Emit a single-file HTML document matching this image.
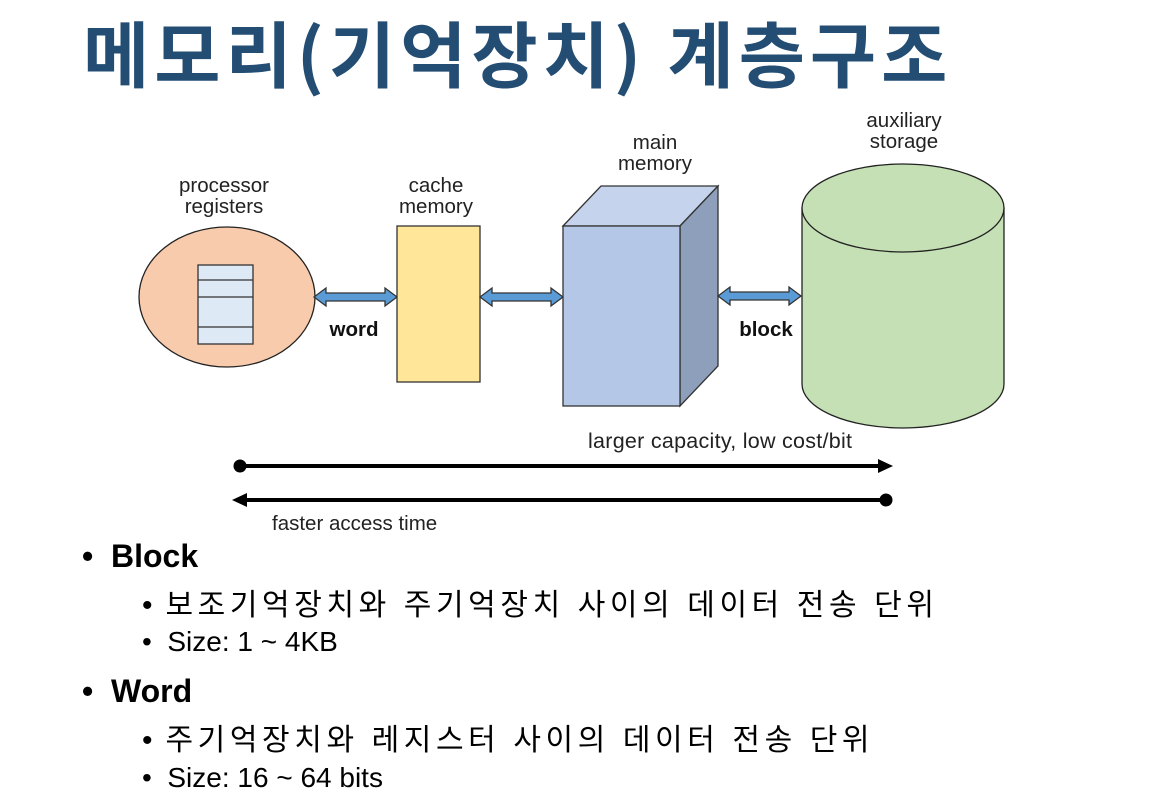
<!DOCTYPE html>
<html><head><meta charset="utf-8"><style>
body{margin:0;width:1175px;height:809px;background:#fff;overflow:hidden;position:relative;font-family:"Liberation Sans","Noto Sans CJK KR",sans-serif}
.t{position:absolute;white-space:nowrap}
.k{letter-spacing:4.6px}
</style></head><body>
<div class="t" style="left:83px;top:-2px;font-size:72px;font-weight:bold;color:#244d74;font-family:'Noto Sans CJK KR',sans-serif;letter-spacing:5px">메모리(기억장치) 계층구조</div>
<svg width="1175" height="809" style="position:absolute;left:0;top:0" font-family="Liberation Sans, sans-serif">
<defs>
<g id="da"><polygon points="0,0 12,-9 12,-4 71,-4 71,-9 83,0 71,9 71,4 12,4 12,9" fill="#5b9bd5" stroke="#333" stroke-width="1.3"/></g>
</defs>
<g font-size="20.5" fill="#222" text-anchor="middle">
<text x="224" y="192">processor</text><text x="224" y="213">registers</text>
<text x="436" y="192">cache</text><text x="436" y="213">memory</text>
<text x="655" y="149">main</text><text x="655" y="170">memory</text>
<text x="904" y="127">auxiliary</text><text x="904" y="148">storage</text>
</g>
<ellipse cx="227" cy="297" rx="88" ry="70" fill="#f8cbad" stroke="#222" stroke-width="1.3"/>
<rect x="198" y="265" width="55" height="79" fill="#dde9f5" stroke="#333" stroke-width="1.3"/>
<line x1="198" y1="280" x2="253" y2="280" stroke="#333" stroke-width="1.3"/>
<line x1="198" y1="297" x2="253" y2="297" stroke="#333" stroke-width="1.3"/>
<line x1="198" y1="327" x2="253" y2="327" stroke="#333" stroke-width="1.3"/>
<use href="#da" transform="translate(314,297)"/>
<rect x="397" y="226" width="83" height="156" fill="#ffe699" stroke="#333" stroke-width="1.3"/>
<use href="#da" transform="translate(480,297)"/>
<polygon points="563,226 601,186 718,186 680,226" fill="#c5d4ec" stroke="#333" stroke-width="1.3"/>
<polygon points="680,226 718,186 718,366 680,406" fill="#8e9fbb" stroke="#333" stroke-width="1.3"/>
<rect x="563" y="226" width="117" height="180" fill="#b4c7e7" stroke="#333" stroke-width="1.3"/>
<use href="#da" transform="translate(718,296)"/>
<path d="M802,208 L802,384 A101,44 0 0 0 1004,384 L1004,208 Z" fill="#c5e0b4" stroke="#222" stroke-width="1.3"/>
<ellipse cx="903" cy="208" rx="101" ry="44" fill="#c5e0b4" stroke="#222" stroke-width="1.3"/>
<text x="354" y="336" font-size="20.5" font-weight="bold" text-anchor="middle" fill="#111">word</text>
<text x="766" y="336" font-size="20.5" font-weight="bold" text-anchor="middle" fill="#111">block</text>
<text x="588" y="448" font-size="21.5" fill="#222" textLength="264">larger capacity, low cost/bit</text>
<text x="272" y="530" font-size="20.5" fill="#222">faster access time</text>
<line x1="240" y1="466" x2="880" y2="466" stroke="#000" stroke-width="4"/>
<circle cx="240" cy="466" r="6.5" fill="#000"/>
<polygon points="893,466 878,459 878,473" fill="#000"/>
<line x1="246" y1="500" x2="886" y2="500" stroke="#000" stroke-width="4"/>
<circle cx="886" cy="500" r="6.5" fill="#000"/>
<polygon points="232,500 247,493 247,507" fill="#000"/>
</svg>
<div class="t" style="left:82px;top:538px;font-size:32px;font-weight:bold">•&nbsp;&nbsp;Block</div>
<div class="t k" style="left:142px;top:580px;font-size:30px"><span style="letter-spacing:0">•</span>&nbsp;보조기억장치와 주기억장치 사이의 데이터 전송 단위</div>
<div class="t" style="left:142px;top:626px;font-size:28px">•&nbsp;&nbsp;Size: 1 ~ 4KB</div>
<div class="t" style="left:82px;top:673px;font-size:32px;font-weight:bold">•&nbsp;&nbsp;Word</div>
<div class="t k" style="left:142px;top:715px;font-size:30px"><span style="letter-spacing:0">•</span>&nbsp;주기억장치와 레지스터 사이의 데이터 전송 단위</div>
<div class="t" style="left:142px;top:762px;font-size:28px">•&nbsp;&nbsp;Size: 16 ~ 64 bits</div>
</body></html>
